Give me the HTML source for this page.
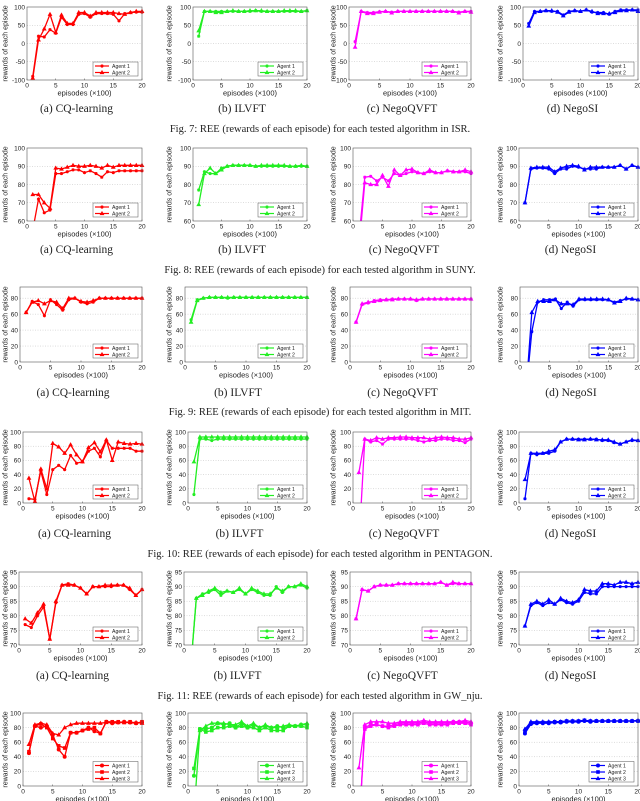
<!DOCTYPE html>
<html><head><meta charset="utf-8"><style>
html,body{margin:0;padding:0;background:#fff}
svg{display:block}
</style></head><body>
<svg id="fig" width="640" height="801" viewBox="0 0 640 801" xmlns="http://www.w3.org/2000/svg" font-family="Liberation Sans, sans-serif"></svg>
<script>
// ---- data (x = episodes 1..20, ×100) ----
const episodes = [1,2,3,4,5,6,7,8,9,10,11,12,13,14,15,16,17,18,19,20];
const xTicks = [0,5,10,15,20];
// ISR
const isrCqA1 = [-90,20,18,38,28,72,52,52,80,82,72,82,82,82,80,62,82,85,86,86];
const isrCqA2 = [-95,10,40,80,30,78,55,55,85,85,75,85,85,85,85,82,80,85,88,88];
const isrIlA1 = [20,88,88,88,88,88,88,88,88,88,90,88,88,88,88,88,88,88,88,90];
const isrIlA2 = [35,88,88,85,85,88,90,88,88,90,90,90,88,88,88,90,90,90,88,90];
const isrNqA1 = [5,88,85,85,87,88,86,88,88,88,88,88,88,88,88,88,88,86,88,88];
const isrNqA2 = [-10,88,82,82,86,88,84,88,88,88,88,88,88,88,88,88,88,84,88,86];
const isrNsA1 = [55,88,88,90,88,88,78,88,90,88,92,86,85,85,80,88,92,92,92,92];
const isrNsA2 = [48,85,88,90,90,86,76,86,90,88,92,88,82,82,82,85,90,90,92,88];
// SUNY
const sunCqA1 = [55,72,64.5,66,86,86,87,88,88,86.5,87.5,86,84,87,86.5,87.5,87.5,87.5,87.5,87.5];
const sunCqA2 = [74.5,74.5,70,67,89,88.5,89.5,90.5,90,90,90.5,90,89,90.5,89.5,90.5,90.5,90.5,90.5,90.5];
const sunIlA1 = [77,87,86,86,89,90,90.5,90.5,90.5,90.5,90,90,90,90,90,90,90,90,90,90];
const sunIlA2 = [69,86,89,86,88,90,90.5,90.5,90.5,90.5,90,90.5,90.5,90.5,90.5,90.5,90,90,90.5,90];
const sunNqA1 = [50,84,84.5,82,84,82,86,85,86,87,86.5,86,87,86.5,86.5,87.5,87,87,87,86];
const sunNqA2 = [45,81,80,80,85,79,88,85,88,88.5,86.5,86,88,86.5,86.5,87.5,87,87,88,87];
const sunNsA1 = [70,88.5,89,89,88.5,86,88.5,88.5,90,89.5,88.5,88.5,88.5,89.5,89.5,89.5,90.5,88.5,90.5,89.5];
const sunNsA2 = [70,89,89.5,89.5,89.5,87,89,90,90.5,90,88,89.5,89.5,89.5,89.5,89.5,90.5,88.5,90.5,89.5];
// MIT
const mitCqA1 = [62,76,72,58,78,72,65,78,80,75,73,75,80,80,80,80,80,80,80,80];
const mitCqA2 = [62,75,77,73,77,75,67,80,80,76,75,77,80,80,80,80,80,80,80,80];
const mitIlA1 = [53,78,80,81,81,81,80,81,81,81,81,81,81,81,81,81,81,81,81,81];
const mitIlA2 = [50,77,80,81,81,81,81,81,81,81,81,81,81,81,81,81,81,81,81,81];
const mitNqA1 = [50,72,74,77,78,78,79,79,79,79,77,79,79,79,79,79,79,79,79,79];
const mitNqA2 = [50,73,75,76,77,78,78,79,79,79,78,79,79,79,79,79,79,79,79,79];
const mitNsA1 = [-40,38,75,78,78,79,67,75,70,78,78,78,78,78,78,75,77,79,79,78];
const mitNsA2 = [-40,62,76,76,76,78,73,73,72,79,79,79,79,79,78,74,76,80,79,78];
// PENTAGON
const penCqA1 = [6,5,45,12,47,53,47,67,56,58,73,77,65,88,77,77,77,77,73,73];
const penCqA2 = [35,2,48,20,84,79,70,82,68,58,78,85,72,89,60,86,84,83,84,83];
const penIlA1 = [12,90,90,88,90,90,90,90,90,90,90,90,90,90,90,90,90,90,90,90];
const penIlA2 = [58,93,93,93,93,93,93,93,93,93,93,93,93,93,93,93,93,93,93,93];
const penNqA1 = [-60,90,86,88,83,90,90,90,90,90,88,86,88,88,90,90,88,88,85,90];
const penNqA2 = [43,90,88,92,90,92,92,93,93,92,92,92,90,92,93,92,92,90,90,92];
const penNsA1 = [6,70,68,70,70,73,86,90,90,90,90,90,90,88,88,85,83,86,88,88];
const penNsA2 = [33,70,70,70,73,75,86,90,90,89,89,90,89,89,89,86,83,86,89,88];
// GW_nju
const gwCqA1 = [77,76,80,83,72,84.5,90.5,91,90.5,89.5,87.5,90,90,90,90,90.5,90.5,89,87,89];
const gwCqA2 = [79,77.5,81,84,72,85,90.5,90.5,90.5,89.5,87.5,90,90,90.5,90.5,90.5,90.5,89.5,87,89];
const gwIlA1 = [60,86,87.5,88,89,87,88.5,88,89,87.5,89,88,87,87,90,88,90,90,90.5,89.5];
const gwIlA2 = [60,86,87,88.5,89.5,88,88.5,88,89.5,87.5,89.5,88.5,87.5,87.5,89.5,88.5,90,90,91,90];
const gwNqA1 = [79,89,88.5,90,90.5,90.5,90.5,91,91,91,91,91,91,91,91.5,90.5,91,91,91,91];
const gwNqA2 = [79,89,88.5,90,90.5,90.5,90.5,91,91,91,91,91,91,91,91.5,90.5,91.5,91,91,91];
const gwNsA1 = [76.5,83.5,84.5,83.5,84.5,84,85.5,84.5,84,85,88,87.5,87.5,90,90,90,90,90,90,90];
const gwNsA2 = [76.5,84,85,84,85.5,84,86,85,84.5,85.5,89,88.5,88.5,91,91,90.5,91.5,91.5,91,91.5];
// 3-agent
const triCqA1 = [45,82,80,82,70,50,40,73,73,76,80,75,72,88,86,87,88,87,86,87];
const triCqA2 = [47,82,85,80,65,55,52,73,73,76,78,80,72,88,88,88,87,88,86,88];
const triCqA3 = [57,84,86,84,72,70,80,84,86,86,86,86,86,87,87,87,87,87,87,86];
const triIlA1 = [14,78,78,80,86,84,86,80,86,80,84,80,82,80,82,80,82,82,84,84];
const triIlA2 = [24,78,74,76,80,80,82,80,82,80,80,76,80,76,76,76,82,82,82,80];
const triIlA3 = [-40,76,82,86,86,86,84,84,88,82,86,80,84,80,80,82,84,82,84,86];
const triNqA1 = [-60,80,84,84,82,82,84,86,86,86,86,88,86,86,86,86,88,88,88,86];
const triNqA2 = [-60,78,82,84,82,80,82,84,84,84,84,86,84,84,84,84,86,86,86,84];
const triNqA3 = [25,84,88,88,88,86,86,88,88,88,88,90,88,88,88,88,88,88,90,88];
const triNsA1 = [72,85,86,86,86,87,87,88,88,88,89,88,89,89,89,89,89,89,89,89];
const triNsA2 = [75,86,87,87,87,88,88,89,89,89,90,89,89,89,89,89,89,89,89,89];
const triNsA3 = [78,88,88,88,88,88,88,89,89,89,90,89,89,89,89,89,89,89,89,90];
// y tick labels per row
const yTicksR1 = [-100,-50,0,50,100];
const yTicksR2 = [60,70,80,90,100];
const yTicksR3 = [0,20,40,60,80];
const yTicksR4 = [0,20,40,60,80,100];
const yTicksR5 = [70,75,80,85,90,95];
const yTicksR6 = [0,20,40,60,80,100];
const subNames = ["CQ-learning","ILVFT","NegoQVFT","NegoSI"];
const figCaptions = ["Fig. 7: REE (rewards of each episode) for each tested algorithm in ISR.",
 "Fig. 8: REE (rewards of each episode) for each tested algorithm in SUNY.",
 "Fig. 9: REE (rewards of each episode) for each tested algorithm in MIT.",
 "Fig. 10: REE (rewards of each episode) for each tested algorithm in PENTAGON.",
 "Fig. 11: REE (rewards of each episode) for each tested algorithm in GW_nju."];

// ---- layout ----
const NS="http://www.w3.org/2000/svg";
const svg=document.getElementById('fig');
const colors=["#ff0000","#22ee22","#ff00ff","#0000ff"];
const rights=[142,307,471,638];
const ylabX=[5,169,333,500];
const rows=[
 {top:7,bot:80,ymin:-100,ymax:100,ticks:yTicksR1,lefts:[27,193,349,523],series:[[isrCqA1,isrCqA2],[isrIlA1,isrIlA2],[isrNqA1,isrNqA2],[isrNsA1,isrNsA2]],sub:108,fig:128},
 {top:148,bot:221,ymin:60,ymax:100,ticks:yTicksR2,lefts:[27,193,353,519],series:[[sunCqA1,sunCqA2],[sunIlA1,sunIlA2],[sunNqA1,sunNqA2],[sunNsA1,sunNsA2]],sub:249,fig:269},
 {top:287,bot:362,ymin:0,ymax:94,ticks:yTicksR3,lefts:[20,185,350,520],series:[[mitCqA1,mitCqA2],[mitIlA1,mitIlA2],[mitNqA1,mitNqA2],[mitNsA1,mitNsA2]],sub:392,fig:411},
 {top:432,bot:503,ymin:0,ymax:100,ticks:yTicksR4,lefts:[23,188,353,519],series:[[penCqA1,penCqA2],[penIlA1,penIlA2],[penNqA1,penNqA2],[penNsA1,penNsA2]],sub:533,fig:553},
 {top:572,bot:645,ymin:70,ymax:95,ticks:yTicksR5,lefts:[19,184,350,519],series:[[gwCqA1,gwCqA2],[gwIlA1,gwIlA2],[gwNqA1,gwNqA2],[gwNsA1,gwNsA2]],sub:675,fig:695},
 {top:713,bot:786,ymin:0,ymax:100,ticks:yTicksR6,lefts:[23,188,353,519],series:[[triCqA1,triCqA2,triCqA3],[triIlA1,triIlA2,triIlA3],[triNqA1,triNqA2,triNqA3],[triNsA1,triNsA2,triNsA3]],sub:null,fig:null}
];
function mk(tag,attrs,parent){const e=document.createElementNS(NS,tag);for(const k in attrs)e.setAttribute(k,attrs[k]);(parent||svg).appendChild(e);return e;}
function marker(g,kind,x,y,c){
 if(kind==='tri'){const e=mk('polygon',{points:`${x},${y-2.6} ${x-2.4},${y+1.6} ${x+2.4},${y+1.6}`,fill:c},g);}
 else if(kind==='sq'){const e=mk('rect',{x:x-1.8,y:y-1.8,width:3.6,height:3.6,fill:c},g);}
 else if(kind==='circ'){const e=mk('circle',{cx:x,cy:y,r:2,fill:c},g);}
 else {const e=mk('path',{d:`M${x-1.6},${y}H${x+1.6}M${x},${y-1.6}V${y+1.6}M${x-1.2},${y-1.2}L${x+1.2},${y+1.2}M${x-1.2},${y+1.2}L${x+1.2},${y-1.2}`,stroke:c,'stroke-width':0.9},g);}
}
let cid=0;
rows.forEach((r,ri)=>{
 for(let pi=0;pi<4;pi++){
  const L=r.lefts[pi],R=rights[pi],T=r.top,B=r.bot,c=colors[pi];
  const g=mk('g',{});
  
  
  const xs=v=>L+(v-0)/(20-0)*(R-L);
  const ys=v=>B-(v-r.ymin)/(r.ymax-r.ymin)*(B-T);
  // grid & ticks
  r.ticks.forEach(t=>{
   const y=ys(t);
   if(t!==r.ymin&&y>T+0.5){const gl=mk('line',{x1:L,x2:R,y1:y,y2:y,stroke:'#bbb','stroke-width':0.5,'stroke-dasharray':'1,1.5'},g);}
   const tl=mk('text',{x:L-2,y:y+2.3,'font-size':6.5,'text-anchor':'end',fill:'#222'},g);tl.textContent=t;
   
  });
  xTicks.forEach(t=>{
   const x=xs(t);
   const tl=mk('text',{x:x,y:B+7.5,'font-size':6.5,'text-anchor':'middle',fill:'#222'},g);tl.textContent=t;
   
   mk('line',{x1:x,x2:x,y1:B,y2:B-1.5,stroke:'#444','stroke-width':0.5},g);
  });
  const xl=mk('text',{x:(L+R)/2,y:B+15.5,'font-size':7.5,'text-anchor':'middle',fill:'#222'},g);xl.textContent='episodes (×100)';
  
  const yl=mk('text',{x:0,y:0,'font-size':7,'text-anchor':'middle',fill:'#222',transform:`translate(${ylabX[pi]+2.5},${(T+B)/2}) rotate(-90)`},g);yl.textContent='rewards of each episode';
  
  // clip
  const cp=mk('clipPath',{id:'c'+(++cid)},g);mk('rect',{x:L,y:T-3,width:R-L+3,height:B-T+3},cp);
  const sg=mk('g',{'clip-path':`url(#c${cid})`},g);
  const kinds=r.series.length&&r.series[pi].length===3?['circ','sq','tri']:['star','tri'];
  r.series[pi].forEach((vals,si)=>{
   const pts=vals.map((v,i)=>xs(episodes[i]).toFixed(1)+','+ys(v).toFixed(1)).join(' ');
   const pl=mk('polyline',{points:pts,fill:'none',stroke:c,'stroke-width':1.3},sg);
   
   vals.forEach((v,i)=>{const y=ys(v);if(y<=B+1)marker(sg,kinds[si],xs(episodes[i]),y,c);});
  });
  // axes box
  const bx=mk('rect',{x:L,y:T,width:R-L,height:B-T,fill:'none',stroke:'#555','stroke-width':0.6},g);
  
  // legend
  const n=r.series[pi].length,lh=n*6.5+1,lw=45,lx=R-lw-4,ly=B-lh-4;
  const lg=mk('g',{},g);
  mk('rect',{x:lx,y:ly,width:lw,height:lh,fill:'#fff',stroke:'#555','stroke-width':0.5},lg);
  for(let k=0;k<n;k++){
   const yy=ly+4+k*6.5;
   mk('line',{x1:lx+2,x2:lx+16,y1:yy,y2:yy,stroke:c,'stroke-width':1.2},lg);
   marker(lg,kinds[k],lx+9,yy,c);
   const lt=mk('text',{x:lx+19,y:yy+2,'font-size':5.2,fill:'#222'},lg);lt.textContent='Agent '+(k+1);
   
  }
  if(r.sub){
   const st=mk('text',{x:(L+R)/2-8,y:r.sub+4,'font-size':11.5,'text-anchor':'middle','font-family':'Liberation Serif, serif',fill:'#222'},g);
   st.textContent='('+'abcd'[pi]+') '+subNames[pi];
   
  }
 }
 if(r.fig){
  const ft=mk('text',{x:320,y:r.fig+4,'font-size':10.5,'text-anchor':'middle','font-family':'Liberation Serif, serif',fill:'#222'});
  ft.textContent=figCaptions[ri];
  
 }
});
</script>
</body></html>
